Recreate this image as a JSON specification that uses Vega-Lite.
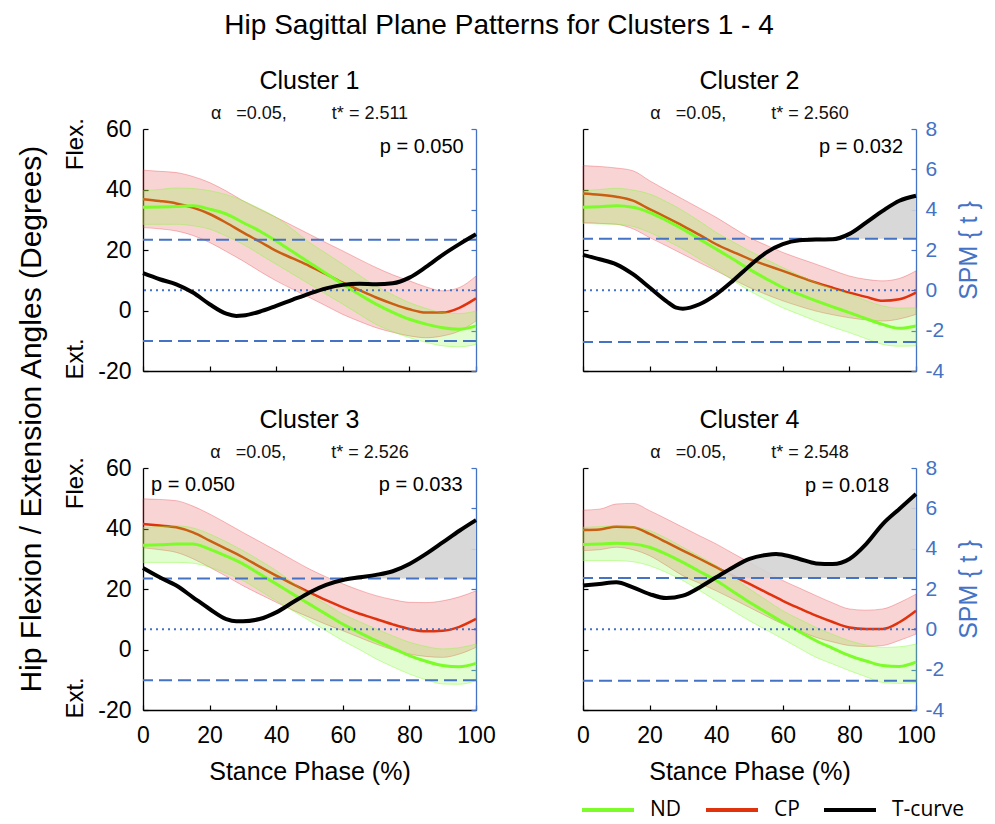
{
  "$schema": "https://vega.github.io/schema/vega-lite/v6.json",
  "background": "white",
  "padding": {"left": 17, "top": 12, "right": 5, "bottom": 2},
  "title": {"text": "Hip Sagittal Plane Patterns for Clusters 1 - 4", "fontSize": 28, "font": "Liberation Sans", "fontWeight": "normal", "color": "#000", "anchor": "middle", "frame": "bounds", "offset": 29},
  "datasets": {
    "curves": [
      {"cluster":1,"x":0,"cp":36.8,"cpLo":27.4,"cpHi":46.4,"nd":34.1,"ndLo":28.5,"ndHi":39.6},
      {"cluster":1,"x":5,"cp":36.2,"cpLo":27.0,"cpHi":46.0,"nd":34.2,"ndLo":28.5,"ndHi":40.0},
      {"cluster":1,"x":10,"cp":35.4,"cpLo":26.3,"cpHi":45.6,"nd":34.4,"ndLo":28.5,"ndHi":40.5},
      {"cluster":1,"x":15,"cp":34.0,"cpLo":24.8,"cpHi":44.3,"nd":34.6,"ndLo":28.0,"ndHi":40.3},
      {"cluster":1,"x":20,"cp":31.9,"cpLo":22.5,"cpHi":42.3,"nd":33.5,"ndLo":26.9,"ndHi":39.6},
      {"cluster":1,"x":25,"cp":29.0,"cpLo":19.5,"cpHi":39.5,"nd":31.9,"ndLo":24.6,"ndHi":38.3},
      {"cluster":1,"x":30,"cp":25.8,"cpLo":16.4,"cpHi":36.3,"nd":29.1,"ndLo":21.9,"ndHi":36.3},
      {"cluster":1,"x":35,"cp":22.8,"cpLo":13.0,"cpHi":33.5,"nd":26.3,"ndLo":18.6,"ndHi":33.7},
      {"cluster":1,"x":40,"cp":19.7,"cpLo":9.8,"cpHi":30.8,"nd":23.0,"ndLo":15.3,"ndHi":30.8},
      {"cluster":1,"x":45,"cp":17.2,"cpLo":7.0,"cpHi":28.0,"nd":19.4,"ndLo":12.0,"ndHi":26.8},
      {"cluster":1,"x":50,"cp":14.7,"cpLo":4.3,"cpHi":25.2,"nd":15.8,"ndLo":8.7,"ndHi":22.5},
      {"cluster":1,"x":55,"cp":12.0,"cpLo":1.5,"cpHi":22.4,"nd":12.2,"ndLo":5.4,"ndHi":18.9},
      {"cluster":1,"x":60,"cp":9.2,"cpLo":-1.3,"cpHi":19.7,"nd":8.7,"ndLo":2.1,"ndHi":15.3},
      {"cluster":1,"x":65,"cp":6.7,"cpLo":-3.6,"cpHi":16.9,"nd":5.3,"ndLo":-1.3,"ndHi":11.6},
      {"cluster":1,"x":70,"cp":4.3,"cpLo":-5.7,"cpHi":14.2,"nd":2.1,"ndLo":-4.6,"ndHi":8.1},
      {"cluster":1,"x":75,"cp":2.2,"cpLo":-7.2,"cpHi":11.8,"nd":-0.6,"ndLo":-7.0,"ndHi":5.2},
      {"cluster":1,"x":80,"cp":0.4,"cpLo":-8.4,"cpHi":9.8,"nd":-2.9,"ndLo":-9.0,"ndHi":2.6},
      {"cluster":1,"x":85,"cp":-0.7,"cpLo":-9.0,"cpHi":7.8,"nd":-4.5,"ndLo":-10.5,"ndHi":0.7},
      {"cluster":1,"x":90,"cp":-0.7,"cpLo":-8.4,"cpHi":6.5,"nd":-5.7,"ndLo":-11.7,"ndHi":-0.7},
      {"cluster":1,"x":95,"cp":0.9,"cpLo":-6.8,"cpHi":7.6,"nd":-6.2,"ndLo":-12.0,"ndHi":-1.0},
      {"cluster":1,"x":100,"cp":4.0,"cpLo":-3.5,"cpHi":11.4,"nd":-5.1,"ndLo":-11.2,"ndHi":-0.2},
      {"cluster":2,"x":0,"cp":38.7,"cpLo":29.1,"cpHi":47.9,"nd":34.1,"ndLo":28.8,"ndHi":39.6},
      {"cluster":2,"x":5,"cp":38.3,"cpLo":28.8,"cpHi":47.6,"nd":34.3,"ndLo":28.6,"ndHi":40.0},
      {"cluster":2,"x":10,"cp":37.6,"cpLo":28.5,"cpHi":47.1,"nd":34.6,"ndLo":28.5,"ndHi":40.4},
      {"cluster":2,"x":15,"cp":36.3,"cpLo":27.0,"cpHi":46.2,"nd":34.1,"ndLo":27.8,"ndHi":39.8},
      {"cluster":2,"x":20,"cp":33.5,"cpLo":24.1,"cpHi":42.9,"nd":32.4,"ndLo":25.8,"ndHi":38.5},
      {"cluster":2,"x":25,"cp":30.8,"cpLo":21.4,"cpHi":39.8,"nd":29.8,"ndLo":23.2,"ndHi":36.0},
      {"cluster":2,"x":30,"cp":28.0,"cpLo":18.6,"cpHi":36.8,"nd":26.9,"ndLo":20.3,"ndHi":33.0},
      {"cluster":2,"x":35,"cp":25.0,"cpLo":15.8,"cpHi":33.8,"nd":23.6,"ndLo":17.0,"ndHi":29.5},
      {"cluster":2,"x":40,"cp":21.9,"cpLo":13.1,"cpHi":30.8,"nd":20.3,"ndLo":13.6,"ndHi":25.8},
      {"cluster":2,"x":45,"cp":19.4,"cpLo":10.3,"cpHi":27.4,"nd":17.0,"ndLo":10.0,"ndHi":22.7},
      {"cluster":2,"x":50,"cp":17.0,"cpLo":7.6,"cpHi":24.1,"nd":13.6,"ndLo":6.5,"ndHi":19.7},
      {"cluster":2,"x":55,"cp":15.0,"cpLo":5.3,"cpHi":21.6,"nd":10.5,"ndLo":3.6,"ndHi":16.9},
      {"cluster":2,"x":60,"cp":13.1,"cpLo":3.2,"cpHi":19.2,"nd":7.6,"ndLo":0.9,"ndHi":14.2},
      {"cluster":2,"x":65,"cp":11.1,"cpLo":1.4,"cpHi":17.2,"nd":5.3,"ndLo":-1.3,"ndHi":11.6},
      {"cluster":2,"x":70,"cp":9.2,"cpLo":-0.2,"cpHi":15.3,"nd":3.2,"ndLo":-3.5,"ndHi":9.2},
      {"cluster":2,"x":75,"cp":7.5,"cpLo":-1.4,"cpHi":13.3,"nd":1.2,"ndLo":-5.5,"ndHi":7.2},
      {"cluster":2,"x":80,"cp":5.9,"cpLo":-2.4,"cpHi":11.4,"nd":-0.7,"ndLo":-7.3,"ndHi":5.4},
      {"cluster":2,"x":85,"cp":4.5,"cpLo":-3.1,"cpHi":10.3,"nd":-2.7,"ndLo":-9.3,"ndHi":3.3},
      {"cluster":2,"x":90,"cp":3.2,"cpLo":-3.5,"cpHi":9.8,"nd":-4.6,"ndLo":-11.2,"ndHi":1.5},
      {"cluster":2,"x":95,"cp":3.7,"cpLo":-2.8,"cpHi":10.6,"nd":-5.9,"ndLo":-11.8,"ndHi":0.8},
      {"cluster":2,"x":100,"cp":5.9,"cpLo":-1.3,"cpHi":13.1,"nd":-5.1,"ndLo":-11.7,"ndHi":0.9},
      {"cluster":3,"x":0,"cp":41.5,"cpLo":33.6,"cpHi":49.8,"nd":34.5,"ndLo":28.8,"ndHi":40.4},
      {"cluster":3,"x":5,"cp":41.0,"cpLo":33.0,"cpHi":49.6,"nd":34.6,"ndLo":28.8,"ndHi":40.6},
      {"cluster":3,"x":10,"cp":40.4,"cpLo":32.1,"cpHi":49.2,"nd":34.9,"ndLo":28.8,"ndHi":40.9},
      {"cluster":3,"x":15,"cp":38.7,"cpLo":30.0,"cpHi":47.4,"nd":34.9,"ndLo":28.5,"ndHi":40.2},
      {"cluster":3,"x":20,"cp":36.0,"cpLo":27.2,"cpHi":44.8,"nd":33.2,"ndLo":27.2,"ndHi":38.2},
      {"cluster":3,"x":25,"cp":33.3,"cpLo":24.2,"cpHi":41.8,"nd":30.9,"ndLo":25.2,"ndHi":35.6},
      {"cluster":3,"x":30,"cp":30.5,"cpLo":21.1,"cpHi":38.7,"nd":28.3,"ndLo":22.8,"ndHi":32.7},
      {"cluster":3,"x":35,"cp":27.4,"cpLo":18.3,"cpHi":35.7,"nd":25.0,"ndLo":19.5,"ndHi":29.5},
      {"cluster":3,"x":40,"cp":24.4,"cpLo":15.6,"cpHi":32.7,"nd":21.7,"ndLo":16.1,"ndHi":26.1},
      {"cluster":3,"x":45,"cp":21.6,"cpLo":13.0,"cpHi":29.6,"nd":18.3,"ndLo":12.8,"ndHi":22.1},
      {"cluster":3,"x":50,"cp":18.9,"cpLo":10.6,"cpHi":26.6,"nd":15.0,"ndLo":9.5,"ndHi":18.3},
      {"cluster":3,"x":55,"cp":16.3,"cpLo":8.3,"cpHi":24.0,"nd":11.7,"ndLo":6.2,"ndHi":15.0},
      {"cluster":3,"x":60,"cp":13.9,"cpLo":6.2,"cpHi":21.7,"nd":8.4,"ndLo":2.9,"ndHi":11.7},
      {"cluster":3,"x":65,"cp":11.8,"cpLo":4.0,"cpHi":19.6,"nd":5.6,"ndLo":0.0,"ndHi":9.2},
      {"cluster":3,"x":70,"cp":10.1,"cpLo":1.8,"cpHi":17.8,"nd":2.9,"ndLo":-3.1,"ndHi":6.8},
      {"cluster":3,"x":75,"cp":8.3,"cpLo":-0.1,"cpHi":16.5,"nd":0.4,"ndLo":-5.7,"ndHi":4.5},
      {"cluster":3,"x":80,"cp":6.8,"cpLo":-1.5,"cpHi":15.6,"nd":-2.0,"ndLo":-8.1,"ndHi":2.4},
      {"cluster":3,"x":85,"cp":6.0,"cpLo":-2.3,"cpHi":15.5,"nd":-3.9,"ndLo":-10.0,"ndHi":1.0},
      {"cluster":3,"x":90,"cp":6.2,"cpLo":-2.6,"cpHi":16.1,"nd":-5.3,"ndLo":-11.4,"ndHi":0.2},
      {"cluster":3,"x":95,"cp":7.5,"cpLo":-1.5,"cpHi":17.4,"nd":-5.7,"ndLo":-11.5,"ndHi":0.6},
      {"cluster":3,"x":100,"cp":10.1,"cpLo":0.7,"cpHi":19.4,"nd":-4.6,"ndLo":-10.3,"ndHi":1.8},
      {"cluster":4,"x":0,"cp":39.5,"cpLo":32.7,"cpHi":46.1,"nd":34.7,"ndLo":29.4,"ndHi":40.4},
      {"cluster":4,"x":5,"cp":39.7,"cpLo":33.0,"cpHi":46.4,"nd":34.9,"ndLo":29.4,"ndHi":40.6},
      {"cluster":4,"x":10,"cp":40.6,"cpLo":33.8,"cpHi":48.1,"nd":35.1,"ndLo":29.4,"ndHi":40.9},
      {"cluster":4,"x":15,"cp":40.4,"cpLo":33.0,"cpHi":48.3,"nd":34.9,"ndLo":29.0,"ndHi":40.6},
      {"cluster":4,"x":20,"cp":38.2,"cpLo":31.0,"cpHi":45.9,"nd":33.8,"ndLo":27.7,"ndHi":39.3},
      {"cluster":4,"x":25,"cp":35.5,"cpLo":27.8,"cpHi":43.2,"nd":31.5,"ndLo":25.5,"ndHi":36.8},
      {"cluster":4,"x":30,"cp":32.7,"cpLo":24.4,"cpHi":40.4,"nd":28.8,"ndLo":22.8,"ndHi":33.8},
      {"cluster":4,"x":35,"cp":30.0,"cpLo":21.9,"cpHi":37.6,"nd":25.8,"ndLo":19.5,"ndHi":30.8},
      {"cluster":4,"x":40,"cp":27.2,"cpLo":19.4,"cpHi":34.9,"nd":22.8,"ndLo":16.1,"ndHi":27.7},
      {"cluster":4,"x":45,"cp":24.4,"cpLo":16.7,"cpHi":31.8,"nd":19.2,"ndLo":12.8,"ndHi":23.9},
      {"cluster":4,"x":50,"cp":21.7,"cpLo":13.9,"cpHi":28.8,"nd":15.6,"ndLo":9.5,"ndHi":20.0},
      {"cluster":4,"x":55,"cp":18.9,"cpLo":11.1,"cpHi":25.8,"nd":12.3,"ndLo":6.5,"ndHi":16.4},
      {"cluster":4,"x":60,"cp":16.1,"cpLo":8.4,"cpHi":22.8,"nd":9.0,"ndLo":3.5,"ndHi":12.8},
      {"cluster":4,"x":65,"cp":13.6,"cpLo":6.2,"cpHi":20.3,"nd":5.9,"ndLo":0.4,"ndHi":10.0},
      {"cluster":4,"x":70,"cp":11.2,"cpLo":4.0,"cpHi":17.8,"nd":2.9,"ndLo":-2.6,"ndHi":7.3},
      {"cluster":4,"x":75,"cp":9.1,"cpLo":2.5,"cpHi":15.4,"nd":0.4,"ndLo":-4.8,"ndHi":5.0},
      {"cluster":4,"x":80,"cp":7.3,"cpLo":1.3,"cpHi":13.4,"nd":-2.0,"ndLo":-7.0,"ndHi":2.9},
      {"cluster":4,"x":85,"cp":6.8,"cpLo":1.0,"cpHi":13.0,"nd":-3.8,"ndLo":-9.0,"ndHi":1.5},
      {"cluster":4,"x":90,"cp":6.8,"cpLo":1.3,"cpHi":13.4,"nd":-5.3,"ndLo":-10.9,"ndHi":0.7},
      {"cluster":4,"x":95,"cp":9.0,"cpLo":3.0,"cpHi":15.5,"nd":-5.6,"ndLo":-11.2,"ndHi":0.9},
      {"cluster":4,"x":100,"cp":12.8,"cpLo":5.1,"cpHi":18.3,"nd":-4.2,"ndLo":-10.9,"ndHi":1.8}
    ],
    "tcurve": [
      {"cluster":1,"x":0,"t":0.85},{"cluster":1,"x":5,"t":0.55},{"cluster":1,"x":10,"t":0.30},{"cluster":1,"x":15,"t":-0.11},
      {"cluster":1,"x":20,"t":-0.69},{"cluster":1,"x":25,"t":-1.16},{"cluster":1,"x":28,"t":-1.27},{"cluster":1,"x":30,"t":-1.25},
      {"cluster":1,"x":35,"t":-1.06},{"cluster":1,"x":40,"t":-0.77},{"cluster":1,"x":45,"t":-0.46},{"cluster":1,"x":50,"t":-0.16},
      {"cluster":1,"x":55,"t":0.10},{"cluster":1,"x":60,"t":0.27},{"cluster":1,"x":65,"t":0.33},{"cluster":1,"x":70,"t":0.30},
      {"cluster":1,"x":75,"t":0.35},{"cluster":1,"x":80,"t":0.63},{"cluster":1,"x":85,"t":1.16},{"cluster":1,"x":90,"t":1.76},
      {"cluster":1,"x":95,"t":2.29},{"cluster":1,"x":100,"t":2.78},
      {"cluster":2,"x":0,"t":1.76},{"cluster":2,"x":5,"t":1.54},{"cluster":2,"x":10,"t":1.29},{"cluster":2,"x":15,"t":0.80},
      {"cluster":2,"x":20,"t":0.14},{"cluster":2,"x":25,"t":-0.53},{"cluster":2,"x":28,"t":-0.86},{"cluster":2,"x":30,"t":-0.91},
      {"cluster":2,"x":35,"t":-0.69},{"cluster":2,"x":40,"t":-0.20},{"cluster":2,"x":45,"t":0.47},{"cluster":2,"x":50,"t":1.21},
      {"cluster":2,"x":55,"t":1.87},{"cluster":2,"x":60,"t":2.29},{"cluster":2,"x":65,"t":2.48},{"cluster":2,"x":70,"t":2.52},
      {"cluster":2,"x":75,"t":2.53},{"cluster":2,"x":80,"t":2.80},{"cluster":2,"x":85,"t":3.36},{"cluster":2,"x":90,"t":3.94},
      {"cluster":2,"x":95,"t":4.44},{"cluster":2,"x":100,"t":4.69},
      {"cluster":3,"x":0,"t":3.04},{"cluster":3,"x":5,"t":2.58},{"cluster":3,"x":10,"t":2.17},{"cluster":3,"x":15,"t":1.59},
      {"cluster":3,"x":20,"t":1.01},{"cluster":3,"x":25,"t":0.51},{"cluster":3,"x":28,"t":0.40},{"cluster":3,"x":30,"t":0.40},
      {"cluster":3,"x":35,"t":0.51},{"cluster":3,"x":40,"t":0.84},{"cluster":3,"x":45,"t":1.34},{"cluster":3,"x":50,"t":1.83},
      {"cluster":3,"x":55,"t":2.21},{"cluster":3,"x":60,"t":2.45},{"cluster":3,"x":65,"t":2.58},{"cluster":3,"x":70,"t":2.70},
      {"cluster":3,"x":75,"t":2.88},{"cluster":3,"x":80,"t":3.24},{"cluster":3,"x":85,"t":3.74},{"cluster":3,"x":90,"t":4.31},
      {"cluster":3,"x":95,"t":4.89},{"cluster":3,"x":100,"t":5.42},
      {"cluster":4,"x":0,"t":2.17},{"cluster":4,"x":5,"t":2.25},{"cluster":4,"x":10,"t":2.33},{"cluster":4,"x":15,"t":2.08},
      {"cluster":4,"x":20,"t":1.75},{"cluster":4,"x":25,"t":1.55},{"cluster":4,"x":30,"t":1.67},{"cluster":4,"x":35,"t":2.08},
      {"cluster":4,"x":40,"t":2.58},{"cluster":4,"x":45,"t":3.07},{"cluster":4,"x":50,"t":3.49},{"cluster":4,"x":55,"t":3.69},
      {"cluster":4,"x":58,"t":3.74},{"cluster":4,"x":60,"t":3.70},{"cluster":4,"x":65,"t":3.49},{"cluster":4,"x":70,"t":3.27},
      {"cluster":4,"x":75,"t":3.24},{"cluster":4,"x":80,"t":3.49},{"cluster":4,"x":85,"t":4.23},{"cluster":4,"x":90,"t":5.22},
      {"cluster":4,"x":95,"t":5.97},{"cluster":4,"x":100,"t":6.71}
    ],
    "supra": [
      {"cluster":1,"x":97.3,"t":2.511},{"cluster":1,"x":100,"t":2.78},
      {"cluster":2,"x":75.6,"t":2.56},{"cluster":2,"x":80,"t":2.80},{"cluster":2,"x":85,"t":3.36},{"cluster":2,"x":90,"t":3.94},
      {"cluster":2,"x":95,"t":4.44},{"cluster":2,"x":100,"t":4.69},
      {"cluster":3,"x":62.9,"t":2.526},{"cluster":3,"x":65,"t":2.58},{"cluster":3,"x":70,"t":2.70},{"cluster":3,"x":75,"t":2.88},
      {"cluster":3,"x":80,"t":3.24},{"cluster":3,"x":85,"t":3.74},{"cluster":3,"x":90,"t":4.31},{"cluster":3,"x":95,"t":4.89},
      {"cluster":3,"x":100,"t":5.42},
      {"cluster":4,"x":39.7,"t":2.548},{"cluster":4,"x":40,"t":2.58},{"cluster":4,"x":45,"t":3.07},{"cluster":4,"x":50,"t":3.49},
      {"cluster":4,"x":55,"t":3.69},{"cluster":4,"x":58,"t":3.74},{"cluster":4,"x":60,"t":3.70},{"cluster":4,"x":65,"t":3.49},
      {"cluster":4,"x":70,"t":3.27},{"cluster":4,"x":75,"t":3.24},{"cluster":4,"x":80,"t":3.49},{"cluster":4,"x":85,"t":4.23},
      {"cluster":4,"x":90,"t":5.22},{"cluster":4,"x":95,"t":5.97},{"cluster":4,"x":100,"t":6.71}
    ],
    "thresholds": [
      {"cluster":1,"thr":2.511},{"cluster":1,"thr":-2.511},
      {"cluster":2,"thr":2.560},{"cluster":2,"thr":-2.560},
      {"cluster":3,"thr":2.526},{"cluster":3,"thr":-2.526},
      {"cluster":4,"thr":2.548},{"cluster":4,"thr":-2.548}
    ]
  },
  "columns": 2,
  "spacing": {"row": 97, "column": 107},
  "bounds": "flush",
  "concat": [
    {
      "width": 333, "height": 242,
      "title": {"text": "Cluster 1", "subtitle": "α\u00a0\u00a0\u00a0=0.05,\u00a0\u00a0\u00a0\u00a0\u00a0\u00a0\u00a0\u00a0\u00a0t* = 2.511"},
      "layer": [
        {
          "encoding": {"x": {"field": "x", "type": "quantitative", "scale": {"domain": [0, 100], "nice": false, "zero": false}, "axis": {"values": [0, 20, 40, 60, 80, 100], "labels": false, "title": null}}},
          "layer": [
            {"data": {"name": "curves"}, "transform": [{"filter": "datum.cluster == 1"}],
             "mark": {"type": "area", "interpolate": "monotone", "fill": "#e3262b", "fillOpacity": 0.2, "stroke": "#e3262b", "strokeOpacity": 0.3, "strokeWidth": 1},
             "encoding": {"y": {"field": "cpHi", "type": "quantitative", "scale": {"domain": [-20, 60], "nice": false, "zero": false}, "axis": {"orient": "left", "values": [-20, 0, 20, 40, 60], "labelPadding": 17, "labelExpr": "'' + datum.value", "title": null}}, "y2": {"field": "cpLo"}}},
            {"data": {"name": "curves"}, "transform": [{"filter": "datum.cluster == 1"}],
             "mark": {"type": "line", "interpolate": "monotone", "strokeWidth": 2.5},
             "encoding": {"y": {"field": "cp", "type": "quantitative"}, "color": {"datum": "CP", "type": "nominal", "scale": {"domain": ["ND", "CP", "T-curve"], "range": ["#7cfc28", "#e0320c", "#000000"]},
               "legend": {"orient": "none", "legendX": 437, "legendY": 653, "direction": "horizontal", "title": null, "padding": 0, "symbolType": "stroke", "symbolSize": 2704, "symbolStrokeWidth": 4, "labelFont": "Open Sans", "labelFontSize": 21, "labelColor": "#000", "labelOffset": 14, "columnPadding": 16}}}},
            {"data": {"name": "curves"}, "transform": [{"filter": "datum.cluster == 1"}],
             "mark": {"type": "area", "interpolate": "monotone", "fill": "#7cfc28", "fillOpacity": 0.22, "stroke": "#7cfc28", "strokeOpacity": 0.4, "strokeWidth": 1},
             "encoding": {"y": {"field": "ndHi", "type": "quantitative"}, "y2": {"field": "ndLo"}}},
            {"data": {"name": "curves"}, "transform": [{"filter": "datum.cluster == 1"}],
             "mark": {"type": "line", "interpolate": "monotone", "strokeWidth": 3},
             "encoding": {"y": {"field": "nd", "type": "quantitative"}, "color": {"datum": "ND", "type": "nominal", "scale": {"domain": ["ND", "CP", "T-curve"], "range": ["#7cfc28", "#e0320c", "#000000"]}}}}
          ]
        },
        {
          "layer": [
            {"data": {"name": "supra"}, "transform": [{"filter": "datum.cluster == 1"}],
             "mark": {"type": "area", "interpolate": "monotone", "color": "#d4d4d4", "opacity": 0.9},
             "encoding": {"x": {"field": "x", "type": "quantitative"}, "y": {"field": "t", "type": "quantitative", "scale": {"domain": [-4, 8], "nice": false, "zero": false}, "axis": {"orient": "right", "values": [-4, -2, 0, 2, 4, 6, 8], "labels": false, "title": null, "domainColor": "#4472c4", "tickColor": "#4472c4"}}, "y2": {"datum": 2.511}}},
            {"data": {"name": "thresholds"}, "transform": [{"filter": "datum.cluster == 1"}],
             "mark": {"type": "rule", "color": "#4472c4", "strokeWidth": 2, "strokeDash": [13, 6]},
             "encoding": {"y": {"field": "thr", "type": "quantitative"}}},
            {"data": {"values": [{}]}, "mark": {"type": "rule", "color": "#4472c4", "strokeWidth": 2, "strokeDash": [2, 4]},
             "encoding": {"y": {"datum": 0}}},
            {"data": {"name": "tcurve"}, "transform": [{"filter": "datum.cluster == 1"}],
             "mark": {"type": "line", "interpolate": "monotone", "strokeWidth": 4},
             "encoding": {"x": {"field": "x", "type": "quantitative"}, "y": {"field": "t", "type": "quantitative"}, "color": {"datum": "T-curve", "type": "nominal", "scale": {"domain": ["ND", "CP", "T-curve"], "range": ["#7cfc28", "#e0320c", "#000000"]}}}},
            {"data": {"values": [{}]}, "mark": {"type": "text", "text": "Flex.", "fontSize": 24, "angle": 270, "baseline": "alphabetic", "align": "center", "fill": "#000"},
             "encoding": {"x": {"datum": -18}, "y": {"datum": 7.25}}},
            {"data": {"values": [{}]}, "mark": {"type": "text", "text": "Ext.", "fontSize": 24, "angle": 270, "baseline": "alphabetic", "align": "center", "fill": "#000"},
             "encoding": {"x": {"datum": -18}, "y": {"datum": -3.4}}},
            {"data": {"values": [{}]}, "mark": {"type": "text", "text": "Hip Flexion / Extension Angles (Degrees)", "fontSize": 30, "angle": 270, "baseline": "alphabetic", "align": "center", "fill": "#000"},
             "encoding": {"x": {"datum": -30.6}, "y": {"datum": -6.385}}},
            {"data": {"values": [{}]}, "mark": {"type": "text", "text": "p = 0.050", "fontSize": 20, "baseline": "middle", "align": "right", "fill": "#000"},
             "encoding": {"x": {"datum": 96.3}, "y": {"datum": 7.1}}}
          ]
        }
      ],
      "resolve": {"scale": {"y": "independent"}, "axis": {"y": "independent"}}
    },
    {
      "width": 333, "height": 242,
      "title": {"text": "Cluster 2", "subtitle": "α\u00a0\u00a0\u00a0=0.05,\u00a0\u00a0\u00a0\u00a0\u00a0\u00a0\u00a0\u00a0\u00a0t* = 2.560"},
      "layer": [
        {
          "encoding": {"x": {"field": "x", "type": "quantitative", "scale": {"domain": [0, 100], "nice": false, "zero": false}, "axis": {"values": [0, 20, 40, 60, 80, 100], "labels": false, "title": null}}},
          "layer": [
            {"data": {"name": "curves"}, "transform": [{"filter": "datum.cluster == 2"}],
             "mark": {"type": "area", "interpolate": "monotone", "fill": "#e3262b", "fillOpacity": 0.2, "stroke": "#e3262b", "strokeOpacity": 0.3, "strokeWidth": 1},
             "encoding": {"y": {"field": "cpHi", "type": "quantitative", "scale": {"domain": [-20, 60], "nice": false, "zero": false}, "axis": {"orient": "left", "values": [-20, 0, 20, 40, 60], "labels": false, "title": null}}, "y2": {"field": "cpLo"}}},
            {"data": {"name": "curves"}, "transform": [{"filter": "datum.cluster == 2"}],
             "mark": {"type": "line", "interpolate": "monotone", "strokeWidth": 2.5},
             "encoding": {"y": {"field": "cp", "type": "quantitative"}, "color": {"datum": "CP", "type": "nominal", "scale": {"domain": ["ND", "CP", "T-curve"], "range": ["#7cfc28", "#e0320c", "#000000"]}}}},
            {"data": {"name": "curves"}, "transform": [{"filter": "datum.cluster == 2"}],
             "mark": {"type": "area", "interpolate": "monotone", "fill": "#7cfc28", "fillOpacity": 0.22, "stroke": "#7cfc28", "strokeOpacity": 0.4, "strokeWidth": 1},
             "encoding": {"y": {"field": "ndHi", "type": "quantitative"}, "y2": {"field": "ndLo"}}},
            {"data": {"name": "curves"}, "transform": [{"filter": "datum.cluster == 2"}],
             "mark": {"type": "line", "interpolate": "monotone", "strokeWidth": 3},
             "encoding": {"y": {"field": "nd", "type": "quantitative"}, "color": {"datum": "ND", "type": "nominal", "scale": {"domain": ["ND", "CP", "T-curve"], "range": ["#7cfc28", "#e0320c", "#000000"]}}}}
          ]
        },
        {
          "layer": [
            {"data": {"name": "supra"}, "transform": [{"filter": "datum.cluster == 2"}],
             "mark": {"type": "area", "interpolate": "monotone", "color": "#d4d4d4", "opacity": 0.9},
             "encoding": {"x": {"field": "x", "type": "quantitative"}, "y": {"field": "t", "type": "quantitative", "scale": {"domain": [-4, 8], "nice": false, "zero": false}, "axis": {"orient": "right", "values": [-4, -2, 0, 2, 4, 6, 8], "labelPadding": 14, "labelExpr": "'' + datum.value", "labelColor": "#4472c4", "labelFontSize": 21, "title": "SPM { t }", "titleColor": "#4472c4", "titleFontSize": 25, "titleAngle": 270, "titleX": 60, "titleY": 121, "titleAlign": "center", "titleBaseline": "alphabetic", "domainColor": "#4472c4", "tickColor": "#4472c4"}}, "y2": {"datum": 2.56}}},
            {"data": {"name": "thresholds"}, "transform": [{"filter": "datum.cluster == 2"}],
             "mark": {"type": "rule", "color": "#4472c4", "strokeWidth": 2, "strokeDash": [13, 6]},
             "encoding": {"y": {"field": "thr", "type": "quantitative"}}},
            {"data": {"values": [{}]}, "mark": {"type": "rule", "color": "#4472c4", "strokeWidth": 2, "strokeDash": [2, 4]},
             "encoding": {"y": {"datum": 0}}},
            {"data": {"name": "tcurve"}, "transform": [{"filter": "datum.cluster == 2"}],
             "mark": {"type": "line", "interpolate": "monotone", "strokeWidth": 4},
             "encoding": {"x": {"field": "x", "type": "quantitative"}, "y": {"field": "t", "type": "quantitative"}, "color": {"datum": "T-curve", "type": "nominal", "scale": {"domain": ["ND", "CP", "T-curve"], "range": ["#7cfc28", "#e0320c", "#000000"]}}}},
            {"data": {"values": [{}]}, "mark": {"type": "text", "text": "p = 0.032", "fontSize": 20, "baseline": "middle", "align": "right", "fill": "#000"},
             "encoding": {"x": {"datum": 96.1}, "y": {"datum": 7.1}}}
          ]
        }
      ],
      "resolve": {"scale": {"y": "independent"}, "axis": {"y": "independent"}}
    },
    {
      "width": 333, "height": 242,
      "title": {"text": "Cluster 3", "subtitle": "α\u00a0\u00a0\u00a0=0.05,\u00a0\u00a0\u00a0\u00a0\u00a0\u00a0\u00a0\u00a0\u00a0t* = 2.526"},
      "layer": [
        {
          "encoding": {"x": {"field": "x", "type": "quantitative", "scale": {"domain": [0, 100], "nice": false, "zero": false}, "axis": {"values": [0, 20, 40, 60, 80, 100], "labelPadding": 19, "title": "Stance Phase (%)", "titleFontSize": 25, "titlePadding": 12}}},
          "layer": [
            {"data": {"name": "curves"}, "transform": [{"filter": "datum.cluster == 3"}],
             "mark": {"type": "area", "interpolate": "monotone", "fill": "#e3262b", "fillOpacity": 0.2, "stroke": "#e3262b", "strokeOpacity": 0.3, "strokeWidth": 1},
             "encoding": {"y": {"field": "cpHi", "type": "quantitative", "scale": {"domain": [-20, 60], "nice": false, "zero": false}, "axis": {"orient": "left", "values": [-20, 0, 20, 40, 60], "labelPadding": 17, "labelExpr": "'' + datum.value", "title": null}}, "y2": {"field": "cpLo"}}},
            {"data": {"name": "curves"}, "transform": [{"filter": "datum.cluster == 3"}],
             "mark": {"type": "line", "interpolate": "monotone", "strokeWidth": 2.5},
             "encoding": {"y": {"field": "cp", "type": "quantitative"}, "color": {"datum": "CP", "type": "nominal", "scale": {"domain": ["ND", "CP", "T-curve"], "range": ["#7cfc28", "#e0320c", "#000000"]}}}},
            {"data": {"name": "curves"}, "transform": [{"filter": "datum.cluster == 3"}],
             "mark": {"type": "area", "interpolate": "monotone", "fill": "#7cfc28", "fillOpacity": 0.22, "stroke": "#7cfc28", "strokeOpacity": 0.4, "strokeWidth": 1},
             "encoding": {"y": {"field": "ndHi", "type": "quantitative"}, "y2": {"field": "ndLo"}}},
            {"data": {"name": "curves"}, "transform": [{"filter": "datum.cluster == 3"}],
             "mark": {"type": "line", "interpolate": "monotone", "strokeWidth": 3},
             "encoding": {"y": {"field": "nd", "type": "quantitative"}, "color": {"datum": "ND", "type": "nominal", "scale": {"domain": ["ND", "CP", "T-curve"], "range": ["#7cfc28", "#e0320c", "#000000"]}}}}
          ]
        },
        {
          "layer": [
            {"data": {"name": "supra"}, "transform": [{"filter": "datum.cluster == 3"}],
             "mark": {"type": "area", "interpolate": "monotone", "color": "#d4d4d4", "opacity": 0.9},
             "encoding": {"x": {"field": "x", "type": "quantitative"}, "y": {"field": "t", "type": "quantitative", "scale": {"domain": [-4, 8], "nice": false, "zero": false}, "axis": {"orient": "right", "values": [-4, -2, 0, 2, 4, 6, 8], "labels": false, "title": null, "domainColor": "#4472c4", "tickColor": "#4472c4"}}, "y2": {"datum": 2.526}}},
            {"data": {"name": "thresholds"}, "transform": [{"filter": "datum.cluster == 3"}],
             "mark": {"type": "rule", "color": "#4472c4", "strokeWidth": 2, "strokeDash": [13, 6]},
             "encoding": {"y": {"field": "thr", "type": "quantitative"}}},
            {"data": {"values": [{}]}, "mark": {"type": "rule", "color": "#4472c4", "strokeWidth": 2, "strokeDash": [2, 4]},
             "encoding": {"y": {"datum": 0}}},
            {"data": {"name": "tcurve"}, "transform": [{"filter": "datum.cluster == 3"}],
             "mark": {"type": "line", "interpolate": "monotone", "strokeWidth": 4},
             "encoding": {"x": {"field": "x", "type": "quantitative"}, "y": {"field": "t", "type": "quantitative"}, "color": {"datum": "T-curve", "type": "nominal", "scale": {"domain": ["ND", "CP", "T-curve"], "range": ["#7cfc28", "#e0320c", "#000000"]}}}},
            {"data": {"values": [{}]}, "mark": {"type": "text", "text": "Flex.", "fontSize": 24, "angle": 270, "baseline": "alphabetic", "align": "center", "fill": "#000"},
             "encoding": {"x": {"datum": -18}, "y": {"datum": 7.25}}},
            {"data": {"values": [{}]}, "mark": {"type": "text", "text": "Ext.", "fontSize": 24, "angle": 270, "baseline": "alphabetic", "align": "center", "fill": "#000"},
             "encoding": {"x": {"datum": -18}, "y": {"datum": -3.4}}},
            {"data": {"values": [{}]}, "mark": {"type": "text", "text": "p = 0.050", "fontSize": 20, "baseline": "middle", "align": "left", "fill": "#000"},
             "encoding": {"x": {"datum": 2.4}, "y": {"datum": 7.175}}},
            {"data": {"values": [{}]}, "mark": {"type": "text", "text": "p = 0.033", "fontSize": 20, "baseline": "middle", "align": "right", "fill": "#000"},
             "encoding": {"x": {"datum": 96}, "y": {"datum": 7.175}}}
          ]
        }
      ],
      "resolve": {"scale": {"y": "independent"}, "axis": {"y": "independent"}}
    },
    {
      "width": 333, "height": 242,
      "title": {"text": "Cluster 4", "subtitle": "α\u00a0\u00a0\u00a0=0.05,\u00a0\u00a0\u00a0\u00a0\u00a0\u00a0\u00a0\u00a0\u00a0t* = 2.548"},
      "layer": [
        {
          "encoding": {"x": {"field": "x", "type": "quantitative", "scale": {"domain": [0, 100], "nice": false, "zero": false}, "axis": {"values": [0, 20, 40, 60, 80, 100], "labelPadding": 19, "title": "Stance Phase (%)", "titleFontSize": 25, "titlePadding": 12}}},
          "layer": [
            {"data": {"name": "curves"}, "transform": [{"filter": "datum.cluster == 4"}],
             "mark": {"type": "area", "interpolate": "monotone", "fill": "#e3262b", "fillOpacity": 0.2, "stroke": "#e3262b", "strokeOpacity": 0.3, "strokeWidth": 1},
             "encoding": {"y": {"field": "cpHi", "type": "quantitative", "scale": {"domain": [-20, 60], "nice": false, "zero": false}, "axis": {"orient": "left", "values": [-20, 0, 20, 40, 60], "labels": false, "title": null}}, "y2": {"field": "cpLo"}}},
            {"data": {"name": "curves"}, "transform": [{"filter": "datum.cluster == 4"}],
             "mark": {"type": "line", "interpolate": "monotone", "strokeWidth": 2.5},
             "encoding": {"y": {"field": "cp", "type": "quantitative"}, "color": {"datum": "CP", "type": "nominal", "scale": {"domain": ["ND", "CP", "T-curve"], "range": ["#7cfc28", "#e0320c", "#000000"]}}}},
            {"data": {"name": "curves"}, "transform": [{"filter": "datum.cluster == 4"}],
             "mark": {"type": "area", "interpolate": "monotone", "fill": "#7cfc28", "fillOpacity": 0.22, "stroke": "#7cfc28", "strokeOpacity": 0.4, "strokeWidth": 1},
             "encoding": {"y": {"field": "ndHi", "type": "quantitative"}, "y2": {"field": "ndLo"}}},
            {"data": {"name": "curves"}, "transform": [{"filter": "datum.cluster == 4"}],
             "mark": {"type": "line", "interpolate": "monotone", "strokeWidth": 3},
             "encoding": {"y": {"field": "nd", "type": "quantitative"}, "color": {"datum": "ND", "type": "nominal", "scale": {"domain": ["ND", "CP", "T-curve"], "range": ["#7cfc28", "#e0320c", "#000000"]}}}}
          ]
        },
        {
          "layer": [
            {"data": {"name": "supra"}, "transform": [{"filter": "datum.cluster == 4"}],
             "mark": {"type": "area", "interpolate": "monotone", "color": "#d4d4d4", "opacity": 0.9},
             "encoding": {"x": {"field": "x", "type": "quantitative"}, "y": {"field": "t", "type": "quantitative", "scale": {"domain": [-4, 8], "nice": false, "zero": false}, "axis": {"orient": "right", "values": [-4, -2, 0, 2, 4, 6, 8], "labelPadding": 14, "labelExpr": "'' + datum.value", "labelColor": "#4472c4", "labelFontSize": 21, "title": "SPM { t }", "titleColor": "#4472c4", "titleFontSize": 25, "titleAngle": 270, "titleX": 60, "titleY": 121, "titleAlign": "center", "titleBaseline": "alphabetic", "domainColor": "#4472c4", "tickColor": "#4472c4"}}, "y2": {"datum": 2.548}}},
            {"data": {"name": "thresholds"}, "transform": [{"filter": "datum.cluster == 4"}],
             "mark": {"type": "rule", "color": "#4472c4", "strokeWidth": 2, "strokeDash": [13, 6]},
             "encoding": {"y": {"field": "thr", "type": "quantitative"}}},
            {"data": {"values": [{}]}, "mark": {"type": "rule", "color": "#4472c4", "strokeWidth": 2, "strokeDash": [2, 4]},
             "encoding": {"y": {"datum": 0}}},
            {"data": {"name": "tcurve"}, "transform": [{"filter": "datum.cluster == 4"}],
             "mark": {"type": "line", "interpolate": "monotone", "strokeWidth": 4},
             "encoding": {"x": {"field": "x", "type": "quantitative"}, "y": {"field": "t", "type": "quantitative"}, "color": {"datum": "T-curve", "type": "nominal", "scale": {"domain": ["ND", "CP", "T-curve"], "range": ["#7cfc28", "#e0320c", "#000000"]}}}},
            {"data": {"values": [{}]}, "mark": {"type": "text", "text": "p = 0.018", "fontSize": 20, "baseline": "middle", "align": "right", "fill": "#000"},
             "encoding": {"x": {"datum": 91.9}, "y": {"datum": 7.1}}}
          ]
        }
      ],
      "resolve": {"scale": {"y": "independent"}, "axis": {"y": "independent"}}
    }
  ],
  "config": {
    "view": {"stroke": null},
    "font": "Liberation Sans",
    "text": {"font": "Liberation Sans"},
    "axis": {"grid": false, "tickSize": -5, "tickWidth": 1.2, "domainWidth": 1.3, "domainColor": "#000", "tickColor": "#000", "labelColor": "#000", "labelFont": "Liberation Sans", "labelFontSize": 23, "titleFont": "Liberation Sans", "titleFontWeight": "normal", "titleColor": "#000", "labelFlush": false, "labelOverlap": false, "labelBound": false},
    "title": {"font": "Liberation Sans", "fontSize": 25, "fontWeight": "normal", "color": "#000", "subtitleFont": "Liberation Sans", "subtitleFontSize": 18, "subtitleColor": "#111", "anchor": "middle", "frame": "group", "offset": -5, "subtitlePadding": 11}
  }
}
